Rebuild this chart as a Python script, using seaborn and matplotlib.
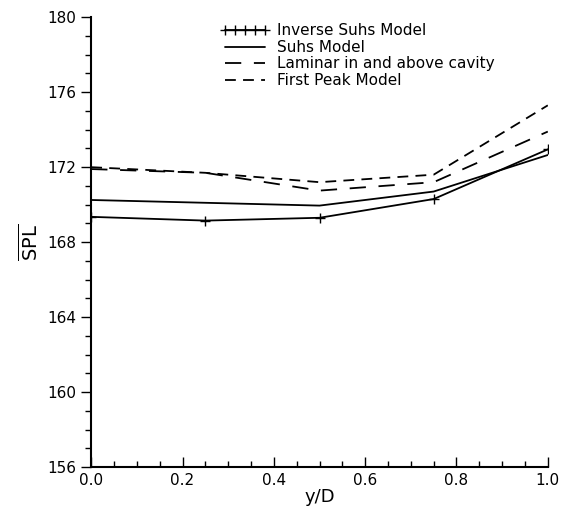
import matplotlib
matplotlib.use("Agg")
import matplotlib.pyplot as plt
import seaborn as sns
import pandas as pd
from matplotlib.ticker import MultipleLocator

x_vals = [0.0, 0.25, 0.5, 0.75, 1.0]
inverse_suhs = [169.35, 169.15, 169.3, 170.3, 172.95]
suhs = [170.25, 170.1, 169.95, 170.7, 172.65]
laminar = [171.9, 171.7, 170.75, 171.2, 173.9]
first_peak = [172.0, 171.7, 171.2, 171.6, 175.3]
labels = ["Inverse Suhs Model", "Suhs Model", "Laminar in and above cavity", "First Peak Model"]

sns.set_style("white")
plt.rcParams['font.family'] = ['DejaVu Sans']
plt.rcParams['text.color'] = 'black'
plt.rcParams['axes.labelcolor'] = 'black'
plt.rcParams['xtick.color'] = 'black'
plt.rcParams['ytick.color'] = 'black'
plt.rcParams['xtick.direction'] = 'in'
plt.rcParams['ytick.direction'] = 'out'

fig = plt.figure(figsize=(5.63, 5.23), dpi=100)
ax = fig.add_axes([0.162, 0.107, 0.811, 0.860])

series = [inverse_suhs, suhs, laminar, first_peak]
styles = [dict(marker='+', markersize=7, markeredgewidth=1.0, markeredgecolor='black',
               markerfacecolor='black', linestyle='-'),
          dict(linestyle='-'),
          dict(linestyle=(0, (9, 7))),
          dict(linestyle=(0, (6, 4)))]
for vals, lab, st in zip(series, labels, styles):
    df = pd.DataFrame({"x": x_vals, "y": vals})
    sns.lineplot(data=df, x="x", y="y", ax=ax, color='black', linewidth=1.3, label=lab, **st)

ax.set_xlim(0, 1)
ax.set_ylim(156, 180)
ax.xaxis.set_major_locator(MultipleLocator(0.2))
ax.xaxis.set_minor_locator(MultipleLocator(0.05))
ax.yaxis.set_major_locator(MultipleLocator(4))
ax.yaxis.set_minor_locator(MultipleLocator(1))
ax.set_xticklabels([f"{v:.1f}" for v in ax.get_xticks()])
ax.tick_params(axis='x', which='both', bottom=True, direction='in')
ax.tick_params(axis='x', which='major', length=7, width=1, labelsize=11, pad=4)
ax.tick_params(axis='x', which='minor', length=4, width=1)
ax.tick_params(axis='y', which='both', left=True, direction='out')
ax.tick_params(axis='y', which='major', length=7, width=1, labelsize=11)
ax.tick_params(axis='y', which='minor', length=4, width=1)

for s in ['top', 'right']:
    ax.spines[s].set_visible(False)
for s in ['left', 'bottom']:
    ax.spines[s].set_color('black')
    ax.spines[s].set_linewidth(1.5)

ax.set_xlabel("y/D", fontsize=13, labelpad=0)
ax.set_ylabel(r"$\overline{\mathrm{SPL}}$", fontsize=14, labelpad=4)

leg = ax.legend(loc='upper left', bbox_to_anchor=(0.27, 1.0), frameon=False, fontsize=11,
                numpoints=5, handlelength=3.2, handletextpad=0.5, labelspacing=0.1,
                borderaxespad=0)
for t in leg.get_texts():
    t.set_color('black')

fig.savefig("out.png", dpi=100)
